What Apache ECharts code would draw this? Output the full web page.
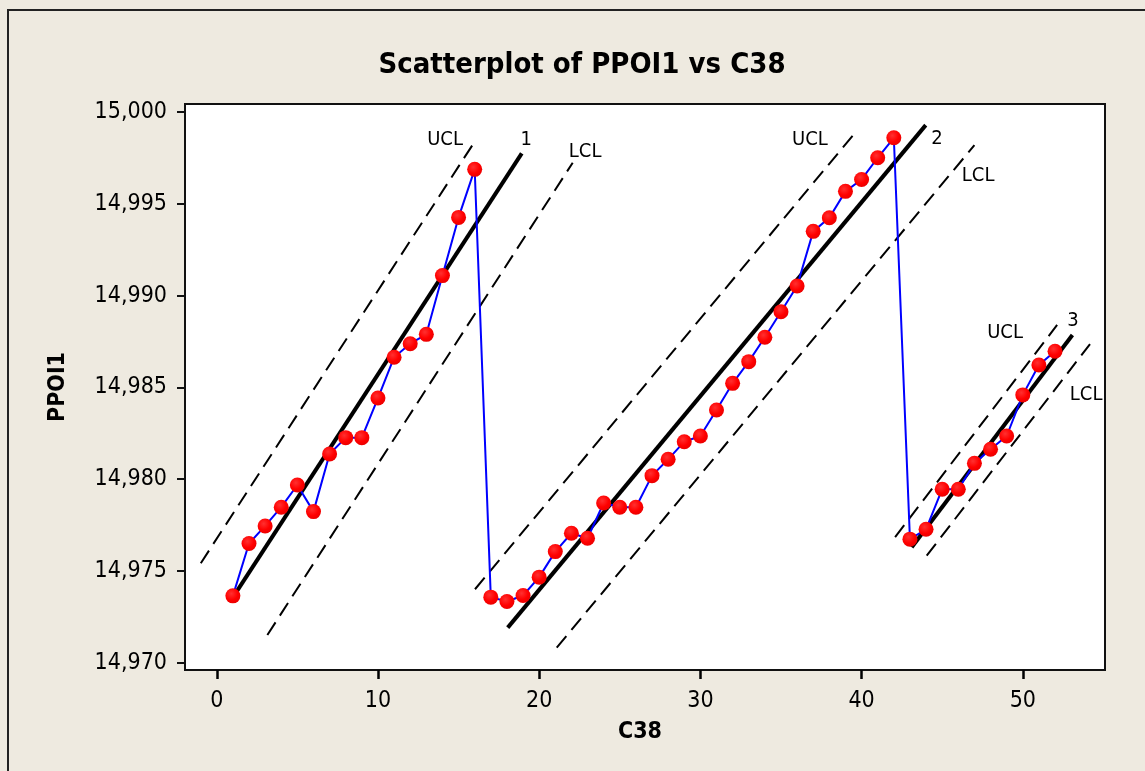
<!DOCTYPE html>
<html>
<head>
<meta charset="utf-8">
<title>Scatterplot of PPOI1 vs C38</title>
<script src="https://cdn.jsdelivr.net/npm/echarts@6/dist/echarts.min.js"></script>
<style>
  html, body { margin: 0; padding: 0; background: #eeeae0; }
  #chart { width: 1145px; height: 771px; }
</style>
</head>
<body>
<div id="chart"></div>
<script>
// C38 index and PPOI1 readings
const c38 = [1, 2, 3, 4, 5, 6, 7, 8, 9, 10, 11, 12, 13, 14, 15, 16, 17, 18, 19, 20,
  21, 22, 23, 24, 25, 26, 27, 28, 29, 30, 31, 32, 33, 34, 35, 36, 37, 38, 39, 40,
  41, 42, 43, 44, 45, 46, 47, 48, 49, 50, 51, 52];
const ppoi1 = [14973.64, 14976.49, 14977.45, 14978.47, 14979.68, 14978.23, 14981.37, 14982.26,
  14982.26, 14984.42, 14986.64, 14987.38, 14987.89, 14991.09, 14994.26, 14996.88,
  14973.57, 14973.33, 14973.66, 14974.66, 14976.05, 14977.05, 14976.78, 14978.70,
  14978.47, 14978.47, 14980.19, 14981.08, 14982.04, 14982.35, 14983.77, 14985.22,
  14986.40, 14987.73, 14989.12, 14990.52, 14993.50, 14994.24, 14995.68, 14996.33,
  14997.51, 14998.60,
  14976.73, 14977.27, 14979.45, 14979.45, 14980.86, 14981.63, 14982.35, 14984.59,
  14986.22, 14986.97];

// fitted trend lines for the 3 segments: [start, end]
const fitLines = [
  [[1.03, 14973.60], [18.92, 14997.75]],
  [[18.05, 14971.91], [43.98, 14999.29]],
  [[43.11, 14976.29], [53.08, 14987.85]]
];
const uclLines = [
  [[-0.99, 14975.42], [15.86, 14998.20]],
  [[16.02, 14974.00], [39.70, 14998.98]],
  [[42.08, 14976.84], [52.13, 14988.40]]
];
const lclLines = [
  [[3.14, 14971.51], [22.08, 14997.24]],
  [[21.09, 14970.82], [47.00, 14998.20]],
  [[44.04, 14975.83], [54.17, 14987.36]]
];

// text annotations
const noteText = ["UCL", "1", "LCL", "UCL", "2", "LCL", "UCL", "3", "LCL"];
const noteX = [14.16, 19.19, 22.85, 36.80, 44.68, 47.23, 48.90, 53.12, 53.93];
const noteY = [14998.47, 14998.47, 14997.82, 14998.47, 14998.53, 14996.51, 14987.96, 14988.62, 14984.59];

const yTicks = [14970, 14975, 14980, 14985, 14990, 14995, 15000];

const FONT = '"DejaVu Sans Condensed", "DejaVu Sans", sans-serif';

const segSeries = (lines, width, type) => lines.map(seg => ({
  type: "line",
  data: seg,
  symbol: "none",
  silent: true,
  clip: false,
  lineStyle: { color: "#000", width: width, type: type },
  z: 2
}));

const chart = echarts.init(document.getElementById("chart"));
chart.setOption({
  animation: false,
  backgroundColor: "#eeeae0",
  grid: [
    {
      left: 185,
      top: 104,
      right: 40,
      bottom: 101,
      show: true,
      backgroundColor: "#fff",
      borderColor: "#111",
      borderWidth: 2
    },
    // tick grid: spans exactly 0..50 of the main x scale
    { left: 216.76, right: 122.2, top: 104, bottom: 101, show: false, z: 5 }
  ],
  graphic: [
    {
      type: "rect",
      shape: { x: 8, y: 10, width: 1200, height: 800 },
      style: { fill: null, stroke: "#222", lineWidth: 2 },
      silent: true
    },
    {
      type: "text",
      x: 582, y: 65,
      style: {
        text: "Scatterplot of PPOI1 vs C38",
        font: "bold 29px " + FONT,
        fill: "#000",
        align: "center",
        verticalAlign: "middle"
      }
    },
    {
      type: "text",
      x: 640, y: 732,
      style: {
        text: "C38",
        font: "bold 23px " + FONT,
        fill: "#000",
        align: "center",
        verticalAlign: "middle"
      }
    },
    {
      type: "text",
      x: 58, y: 387,
      rotation: Math.PI / 2,
      style: {
        text: "PPOI1",
        font: "bold 23px " + FONT,
        fill: "#000",
        align: "center",
        verticalAlign: "middle"
      }
    }
  ],
  xAxis: [
    {
      type: "value",
      gridIndex: 0,
      min: -1.97,
      max: 55.1,
      splitLine: { show: false },
      axisLine: { show: false, onZero: false },
      axisTick: { show: false },
      axisLabel: { show: false }
    },
    {
      type: "value",
      gridIndex: 1,
      min: 0,
      max: 50,
      interval: 10,
      z: 10,
      splitLine: { show: false },
      axisLine: { show: true, onZero: false, lineStyle: { color: "#111", width: 2 } },
      axisTick: {
        show: true, length: 9, inside: false,
        lineStyle: { color: "#000", width: 2.5 }
      },
      axisLabel: {
        margin: 20,
        fontFamily: FONT,
        fontSize: 23,
        color: "#000"
      }
    }
  ],
  yAxis: [
    {
      type: "value",
      gridIndex: 0,
      min: 14969.6,
      max: 15000.44,
      splitLine: { show: false },
      axisLine: { show: false, onZero: false },
      axisTick: {
        show: true, length: 8, inside: false,
        customValues: yTicks,
        lineStyle: { color: "#111", width: 2 }
      },
      axisLabel: {
        customValues: yTicks,
        margin: 18,
        fontFamily: FONT,
        fontSize: 23,
        color: "#000",
        formatter: v => Math.round(v).toLocaleString("en-US")
      }
    },
    {
      type: "value",
      gridIndex: 1,
      min: 0,
      max: 1,
      show: false
    }
  ],
  series: [
    ...segSeries(uclLines, 2, [15, 8]),
    ...segSeries(lclLines, 2, [15, 8]),
    ...segSeries(fitLines, 4, "solid"),
    {
      type: "line",
      data: c38.map((x, i) => [x, ppoi1[i]]),
      symbol: "none",
      lineStyle: { color: "#0000ff", width: 2 },
      z: 3
    },
    {
      type: "scatter",
      data: c38.map((x, i) => [x, ppoi1[i]]),
      symbol: "circle",
      symbolSize: 15,
      itemStyle: {
        opacity: 1,
        color: {
          type: "radial", x: 0.4, y: 0.35, r: 0.7,
          colorStops: [
            { offset: 0, color: "#ff3030" },
            { offset: 0.6, color: "#ff0000" },
            { offset: 1, color: "#e80000" }
          ]
        }
      },
      z: 4
    },
    {
      type: "scatter",
      data: noteText.map((t, i) => ({ name: t, value: [noteX[i], noteY[i]] })),
      symbolSize: 0,
      silent: true,
      itemStyle: { opacity: 1 },
      label: {
        show: true,
        position: "inside",
        formatter: p => p.name,
        fontFamily: FONT,
        fontSize: 20,
        color: "#000",
        opacity: 1
      },
      z: 5
    }
  ]
});
</script>
</body>
</html>
